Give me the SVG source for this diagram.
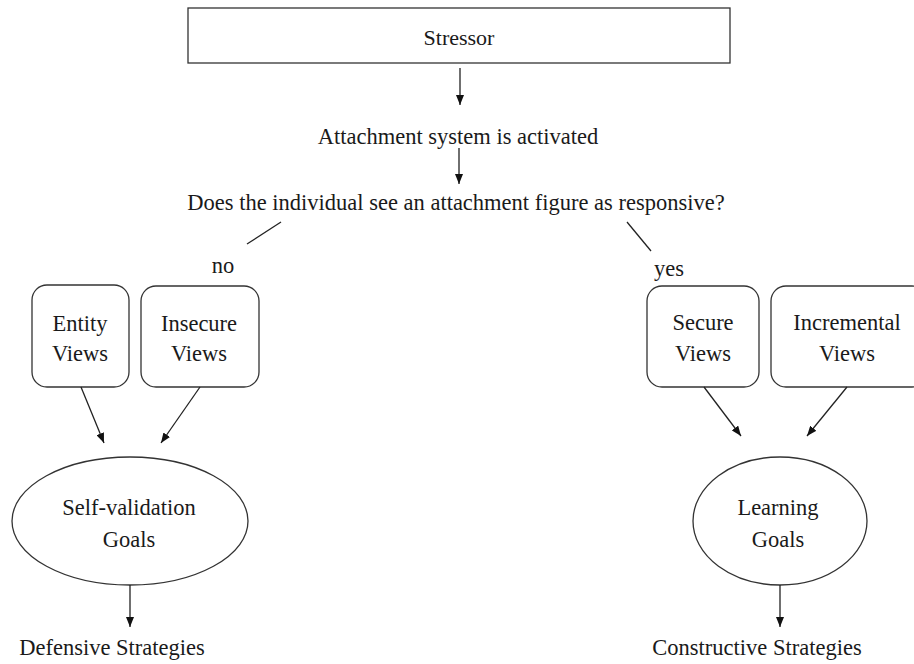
<svg xmlns="http://www.w3.org/2000/svg" width="914" height="664" viewBox="0 0 914 664">
  <style>
    text { font-family: "Liberation Serif", "Times New Roman", serif; font-size: 22.5px; fill: #1a1a1a; text-anchor: middle; }
    .box { fill: #fff; stroke: #333; stroke-width: 1.3; }
    .edge { stroke: #222; stroke-width: 1.3; fill: none; }
    .tip { stroke: #222; stroke-width: 1.3; fill: none; marker-end: url(#arrow); }
  </style>
  <defs>
    <marker id="arrow" markerUnits="userSpaceOnUse" markerWidth="10" markerHeight="8" refX="10" refY="4" orient="auto">
      <path d="M0,0 L10,4 L0,8 z" fill="#111"/>
    </marker>
  </defs>
  <rect width="914" height="664" fill="#fff"/>

  <g id="stressor">
    <rect class="box" x="188" y="8" width="542" height="55"/>
    <text x="459" y="45" style="font-size:22px">Stressor</text>
  </g>

  <g id="activated">
    <text x="458" y="144">Attachment system is activated</text>
  </g>

  <g id="question">
    <text x="456" y="210">Does the individual see an attachment figure as responsive?</text>
  </g>

  <g id="label-no">
    <text x="223" y="273">no</text>
  </g>
  <g id="label-yes">
    <text x="669" y="276">yes</text>
  </g>

  <g id="entity-views">
    <rect class="box" x="32" y="285" width="97" height="102" rx="15"/>
    <text x="80" y="331">Entity</text>
    <text x="80" y="361">Views</text>
  </g>

  <g id="insecure-views">
    <rect class="box" x="141" y="286" width="118" height="101" rx="15"/>
    <text x="199" y="331">Insecure</text>
    <text x="199" y="361">Views</text>
  </g>

  <g id="secure-views">
    <rect class="box" x="647" y="286" width="112" height="101" rx="15"/>
    <text x="703" y="330">Secure</text>
    <text x="703" y="361">Views</text>
  </g>

  <g id="incremental-views">
    <rect class="box" x="771" y="286" width="156" height="101" rx="15"/>
    <text x="847" y="330">Incremental</text>
    <text x="847" y="361">Views</text>
  </g>

  <g id="self-validation-goals">
    <ellipse class="box" cx="130" cy="521" rx="118" ry="64"/>
    <text x="129" y="515">Self-validation</text>
    <text x="129" y="547">Goals</text>
  </g>

  <g id="learning-goals">
    <ellipse class="box" cx="780" cy="521" rx="87" ry="64"/>
    <text x="778" y="515">Learning</text>
    <text x="778" y="547">Goals</text>
  </g>

  <g id="defensive-strategies">
    <text x="112" y="655">Defensive Strategies</text>
  </g>

  <g id="constructive-strategies">
    <text x="757" y="655">Constructive Strategies</text>
  </g>

  <g id="connectors">
    <line class="tip" x1="460" y1="68" x2="460" y2="105"/>
    <line class="tip" x1="459" y1="148" x2="459" y2="184"/>
    <line class="edge" x1="247" y1="244" x2="281" y2="222"/>
    <line class="edge" x1="627" y1="222" x2="651" y2="251"/>
    <line class="tip" x1="81" y1="387" x2="104" y2="443"/>
    <line class="tip" x1="200" y1="387" x2="161" y2="443"/>
    <line class="tip" x1="704" y1="387" x2="741" y2="436"/>
    <line class="tip" x1="847" y1="387" x2="807" y2="436"/>
    <line class="tip" x1="130" y1="585" x2="130" y2="627"/>
    <line class="tip" x1="780" y1="585" x2="780" y2="627"/>
  </g>
</svg>
